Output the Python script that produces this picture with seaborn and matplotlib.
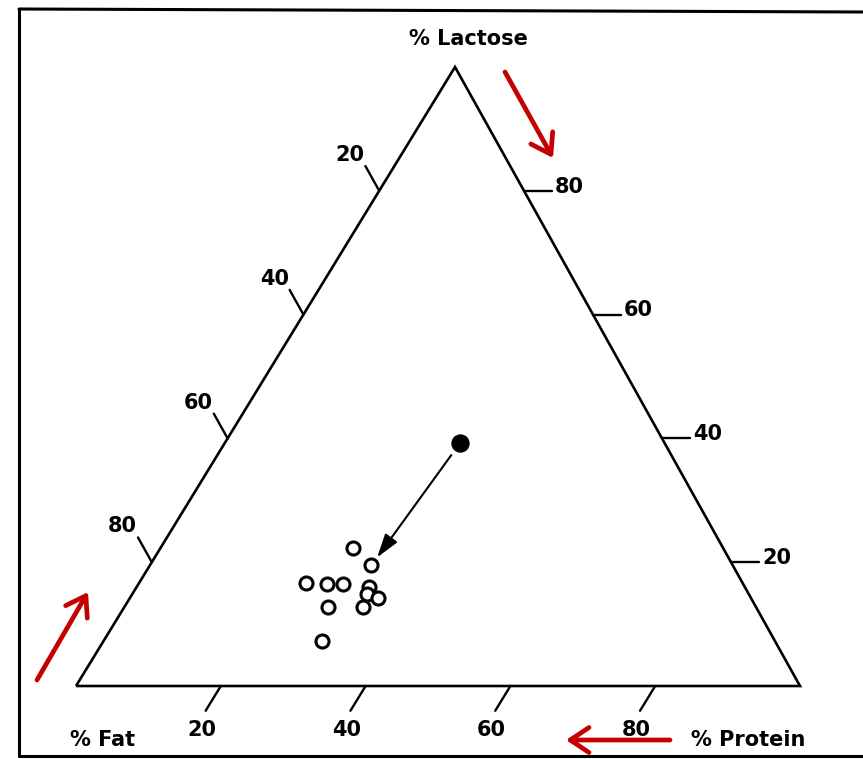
import matplotlib
matplotlib.use("Agg")
import matplotlib.pyplot as plt
import numpy as np
import pandas as pd
import seaborn as sns
from matplotlib.lines import Line2D

# Milk composition (% of total solids): fat, protein, lactose
fat = [51.1, 49.9, 60.3, 57.5, 55.2, 51.9, 52.7, 51.5, 54.2, 59.1, 62.5]
protein = [26.6, 30.6, 23.1, 26.0, 28.3, 32.1, 32.4, 34.3, 33.0, 28.1, 30.2]
lactose = [22.3, 19.5, 16.6, 16.5, 16.5, 16.0, 14.9, 14.2, 12.8, 12.8, 7.3]

# Reference composition (filled point) and the sample the arrow points to
ref_fat, ref_protein, ref_lactose = 28.2, 32.5, 39.3
arrow_target = 1

tick_values = [20, 40, 60, 80]
axis_titles = {"top": "% Lactose", "left": "% Fat", "right": "% Protein"}

# horizontal position of the lactose apex (fraction of the base width)
APEX_X = 0.5235


def to_xy(p, l):
    """Protein and lactose fractions -> plane coordinates."""
    p = np.asarray(p, dtype=float)
    l = np.asarray(l, dtype=float)
    return p + APEX_X * l, l


sns.set_theme(style="white")
plt.rcParams["font.family"] = ["DejaVu Sans"]
plt.rcParams["text.color"] = "black"

fig = plt.figure(figsize=(8.63, 7.59), dpi=100)
ax = fig.add_axes([0, 0, 1, 1])
ax.set_xlim(-76 / 724, 787 / 724)
ax.set_ylim(-73 / 619, 686 / 619)
ax.set_axis_off()

tot = np.array(fat) + np.array(protein) + np.array(lactose)
x, y = to_xy(np.array(protein) / tot, np.array(lactose) / tot)
df = pd.DataFrame({"x": x, "y": y})

rt = ref_fat + ref_protein + ref_lactose
rx, ry = (float(v) for v in to_xy(ref_protein / rt, ref_lactose / rt))
df_ref = pd.DataFrame({"x": [rx], "y": [ry]})

# triangle outline
tx, ty = to_xy([0, 1, 0, 0], [0, 0, 1, 0])
ax.plot(tx, ty, color="black", lw=1.9,
        solid_joinstyle="miter", solid_capstyle="butt", zorder=2)

t = 0.040
fs = 15
fw = "bold"
tick_lw = 1.7
for v in tick_values:
    f = v / 100
    # fat ticks on left edge, parallel to constant-fat lines
    x0, y0 = to_xy(0.0, 1 - f)
    x1, y1 = x0 - (1 - APEX_X) * t, y0 + t
    ax.plot([x0, x1], [y0, y1], color="black", lw=tick_lw)
    ax.annotate(str(v), (x1, y1), textcoords="offset points", xytext=(-11, 8),
                ha="center", va="center", fontsize=fs, fontweight=fw)
    # lactose ticks on right edge, horizontal
    x0, y0 = to_xy(1 - f, f)
    x1, y1 = x0 + t * 0.95, y0
    ax.plot([x0, x1], [y0, y1], color="black", lw=tick_lw)
    ax.annotate(str(v), (x1, y1), textcoords="offset points", xytext=(13, 3),
                ha="center", va="center", fontsize=fs, fontweight=fw)
    # protein ticks on bottom edge, parallel to constant-protein lines
    x0, y0 = to_xy(f, 0.0)
    x1, y1 = x0 - APEX_X * t, y0 - t
    ax.plot([x0, x1], [y0, y1], color="black", lw=tick_lw)
    ax.annotate(str(v), (x1, y1), textcoords="offset points", xytext=(-3, -14),
                ha="center", va="center", fontsize=fs, fontweight=fw)

# vertex titles
ax.annotate(axis_titles["top"], to_xy(0, 1), textcoords="offset points",
            xytext=(10, 20), ha="center", va="center", fontsize=fs, fontweight=fw)
ax.annotate(axis_titles["left"], to_xy(0, 0), textcoords="offset points",
            xytext=(19, -39), ha="center", va="center", fontsize=fs, fontweight=fw)
ax.annotate(axis_titles["right"], to_xy(1, 0), textcoords="offset points",
            xytext=(-37, -39), ha="center", va="center", fontsize=fs, fontweight=fw)

# samples
sns.scatterplot(data=df, x="x", y="y", ax=ax, marker="o", s=88,
                facecolor="white", edgecolor="black", linewidth=2.2, zorder=4)
sns.scatterplot(data=df_ref, x="x", y="y", ax=ax, marker="o", s=175,
                color="black", edgecolor="black", linewidth=0, zorder=4)

ax.annotate("", xy=(x[arrow_target], y[arrow_target]), xytext=(rx, ry),
            arrowprops=dict(arrowstyle="-|>,head_length=0.8,head_width=0.25",
                            color="black", lw=1.5, shrinkA=11, shrinkB=7,
                            mutation_scale=18), zorder=3)

# red reading-direction arrows
W, H = 863, 759
red = "#c40000"


def red_arrow(p0, p1):
    ax.annotate("", xy=(p1[0] / W, 1 - p1[1] / H), xytext=(p0[0] / W, 1 - p0[1] / H),
                xycoords="figure fraction", textcoords="figure fraction",
                arrowprops=dict(arrowstyle="->,head_length=0.45,head_width=0.3",
                                color=red, lw=3.4, mutation_scale=30,
                                shrinkA=0, shrinkB=0), zorder=5)


red_arrow((37, 680), (88, 592))
red_arrow((505, 72), (553, 158))
red_arrow((670, 740), (566, 740))

# outer frame
for xs, ys in [([19, 19], [9, 756]), ([19, 863], [9, 12]), ([19, 863], [756, 756])]:
    fig.add_artist(Line2D([a / W for a in xs], [1 - b / H for b in ys],
                          color="black", lw=2.2, transform=fig.transFigure))

fig.savefig("out.png", dpi=100, facecolor="white")
